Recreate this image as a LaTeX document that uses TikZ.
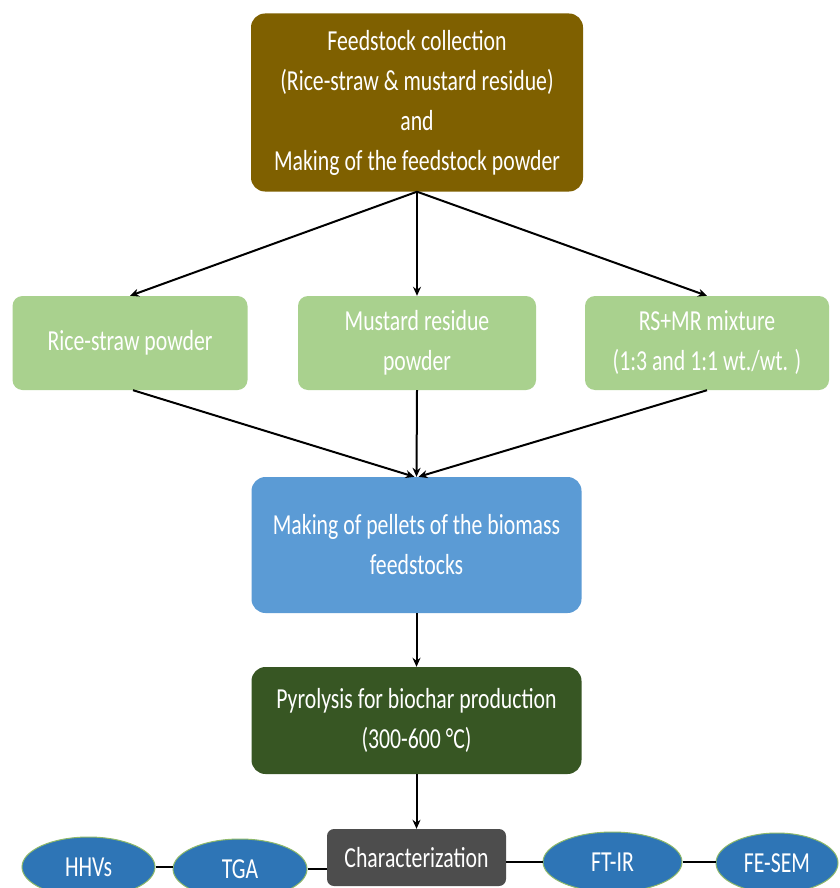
\documentclass[tikz,border=0pt]{standalone}
\usepackage{fontspec}
\setmainfont{Carlito}[FakeStretch=0.75]
\usetikzlibrary{shapes.geometric,arrows.meta}
\definecolor{cbrown}{HTML}{7F6000}
\definecolor{clgreen}{HTML}{A9D18E}
\definecolor{cblue}{HTML}{5B9BD5}
\definecolor{cdgreen}{HTML}{375623}
\definecolor{cgray}{HTML}{4D4D4D}
\definecolor{cell}{HTML}{2E75B6}
\definecolor{cellb}{HTML}{8DB86A}
\tikzset{
  box/.style={rectangle, rounded corners=14pt, inner sep=0pt, align=center,
    text=white, font=\fontsize{29}{40}\selectfont},
  gbox/.style={box, fill=clgreen, rounded corners=10pt, minimum height=94pt},
  oval/.style={ellipse, fill=cell, draw=cellb, line width=1pt, inner sep=0pt,
    minimum height=60pt, text=white, font=\fontsize{29}{40}\selectfont},
  arr/.style={draw=black, line width=2pt, -{Stealth[length=9pt,width=8pt]}},
  link/.style={draw=black, line width=2.8pt}
}
\begin{document}
\begin{tikzpicture}[x=1pt,y=-1pt]
\clip (0,0) rectangle (839,888);
\fill[white] (0,0) rectangle (839,888);
\node[box, fill=cbrown, minimum width=332pt, minimum height=178pt] (top) at (417,102.5)
  {Feedstock collection\\(Rice-straw \& mustard residue)\\and\\Making of the feedstock powder};
\node[gbox, minimum width=235pt] (rs) at (130,343) {Rice-straw powder};
\node[gbox, minimum width=238pt] (mr) at (417,343) {Mustard residue\\powder};
\node[gbox, minimum width=244pt] (mix) at (707,343) {RS+MR mixture\\(1:3 and 1:1 wt./wt. )};
\node[box, fill=cblue, minimum width=330pt, minimum height=136pt] (pel) at (416.5,545)
  {Making of pellets of the biomass\\feedstocks};
\node[box, fill=cdgreen, minimum width=330pt, minimum height=107pt] (pyr) at (416.5,720.5)
  {Pyrolysis for biochar production\\(300-600 °C)};
\node[box, fill=cgray, rounded corners=7pt, minimum width=179pt, minimum height=57pt] (char) at (416.5,857.5)
  {Characterization};
\node[oval, minimum width=133pt] (hhv) at (88.5,867) {HHVs};
\node[oval, minimum width=134pt] (tga) at (240,869) {TGA};
\node[oval, minimum width=139pt] (ftir) at (612.5,862) {FT-IR};
\node[oval, minimum width=122pt] (fesem) at (777,863) {FE-SEM};
\draw[arr] (top.south) -- (rs.north);
\draw[arr] (top.south) -- (mr.north);
\draw[arr] (top.south) -- (mix.north);
\draw[arr] ([xshift=3pt]rs.south) -- ([xshift=-2pt]pel.north);
\draw[arr] (mr.south) -- (pel.north);
\draw[arr] (mix.south) -- ([xshift=2pt]pel.north);
\draw[arr] (pel.south) -- (pyr.north);
\draw[arr] (pyr.south) -- (char.north);
\draw[link] (hhv.east) -- (tga.west |- hhv.east);
\draw[link] (tga.east) -- (char.west |- tga.east);
\draw[link] (char.east |- ftir.west) -- (ftir.west);
\draw[link] (ftir.east) -- (fesem.west |- ftir.east);
\end{tikzpicture}
\end{document}
